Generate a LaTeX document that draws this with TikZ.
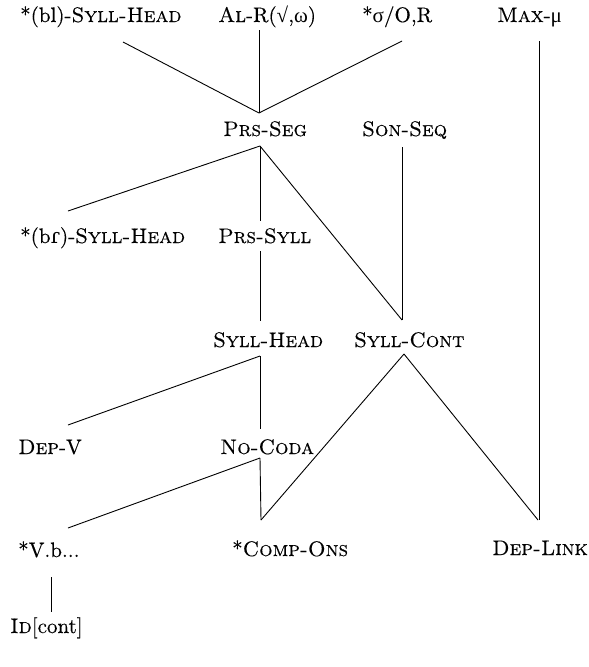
\documentclass[tikz,border=0pt]{standalone}
\usepackage{fontspec}
\setmainfont{lmroman10-regular.otf}[FakeBold=0.35,
  SmallCapsFont=lmromancaps10-regular.otf,
  SmallCapsFeatures={FakeBold=0.35}]
\newfontfamily\grk{Liberation Serif}
\newfontfamily\ipa{DejaVu Serif}
\usetikzlibrary{calc}
\newcommand\att[3]{($(#1.base west)+(#2,#3)$)}
\begin{document}
\begin{tikzpicture}[x=1pt,y=-1pt,
  con/.style={anchor=base west,inner sep=0pt,font=\fontsize{21}{24}\selectfont},
  edge/.style={line width=0.9pt}]
\useasboundingbox (0,0) rectangle (589,667);
\node[con] (blsh) at (20,22) {*(bl)-\textsc{Syll-Head}};
\node[con] (alr) at (218,22) {\textsc{Al}-R({\grk √},{\grk ω})};
\node[con] (sor) at (362,22) {*{\grk σ}/O,R};
\node[con] (maxmu) at (497,22) {\textsc{Max}-{\grk μ}};
\node[con] (prsseg) at (223,136) {\textsc{Prs-Seg}};
\node[con] (sonseq) at (362,136) {\textsc{Son-Seq}};
\node[con] (brsh) at (20,243) {*(b{\ipa ɾ})-\textsc{Syll-Head}};
\node[con] (prssyll) at (218,243) {\textsc{Prs-Syll}};
\node[con] (syllhead) at (213,347) {\textsc{Syll-Head}};
\node[con] (syllcont) at (354,347) {\textsc{Syll-Cont}};
\node[con] (depv) at (18,454) {\textsc{Dep}-V};
\node[con] (nocoda) at (220,454) {\textsc{No-Coda}};
\node[con] (vb) at (18,557) {*V.b...};
\node[con] (compons) at (232,556) {*\textsc{Comp-Ons}};
\node[con] (deplink) at (492,555) {\textsc{Dep-Link}};
\node[con] (idcont) at (10,633) {\textsc{Id}[cont]};
\begin{scope}[edge]
\draw \att{blsh}{103}{20} -- \att{prsseg}{36}{-23};
\draw \att{alr}{41}{8} -- \att{prsseg}{36}{-23};
\draw \att{sor}{40}{19} -- \att{prsseg}{36}{-23};
\draw \att{maxmu}{42}{19} -- \att{deplink}{47}{-35};
\draw \att{prsseg}{37}{10} -- \att{brsh}{48}{-32};
\draw \att{prsseg}{37}{10} -- \att{prssyll}{42}{-22};
\draw \att{prsseg}{37}{10} -- \att{syllcont}{48}{-27};
\draw \att{sonseq}{40}{11} -- \att{syllcont}{48}{-27};
\draw \att{prssyll}{42}{8} -- \att{syllhead}{47}{-26};
\draw \att{syllhead}{47}{9} -- \att{depv}{50}{-29};
\draw \att{syllhead}{47}{9} -- \att{nocoda}{40}{-25};
\draw \att{syllcont}{50}{7} -- \att{compons}{29}{-36};
\draw \att{syllcont}{50}{7} -- \att{deplink}{46}{-35};
\draw \att{nocoda}{40}{4} -- \att{vb}{50}{-29};
\draw \att{nocoda}{40}{4} -- \att{compons}{29}{-36};
\draw \att{vb}{33}{20} -- \att{idcont}{41}{-21};
\end{scope}
\end{tikzpicture}
\end{document}
